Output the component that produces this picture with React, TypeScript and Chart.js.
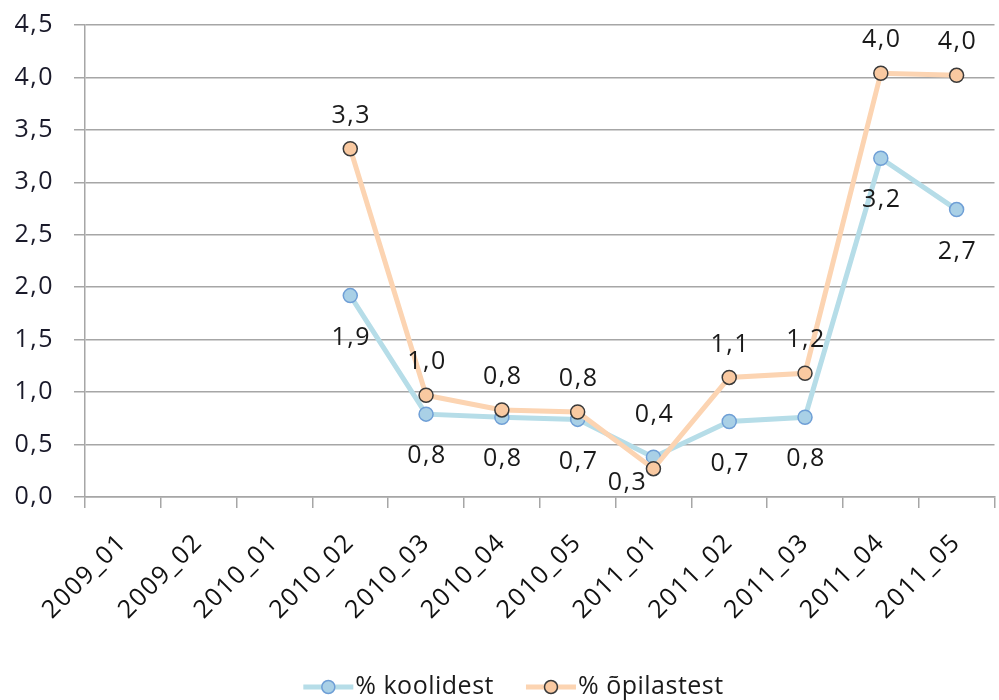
import React, { useEffect, useRef } from "react";
import { Chart, registerables } from "chart.js";

Chart.register(...registerables);

const categories = [
  "2009_01", "2009_02", "2010_01", "2010_02", "2010_03", "2010_04",
  "2010_05", "2011_01", "2011_02", "2011_03", "2011_04", "2011_05",
];
const koolidest: (number | null)[] = [null, null, null, 1.92, 0.79, 0.76, 0.74, 0.38, 0.72, 0.76, 3.23, 2.74];
const opilastest: (number | null)[] = [null, null, null, 3.32, 0.97, 0.83, 0.81, 0.27, 1.14, 1.18, 4.04, 4.02];
const seriesNames = ["% koolidest", "% õpilastest"];
// label placement per point: "above" | "below" | "belowLeft"
const koolidestPlacement = ["below", "below", "below", "below", "below", "below", "below", "above", "below", "below", "below", "below"];
const opilastestPlacement = ["above", "above", "above", "above", "above", "above", "above", "belowLeft", "above", "above", "above", "above"];

const FONT = "'Open Sans', sans-serif";
const fmt = (v: number) => v.toFixed(1).replace(".", ",");

const BLUE_LINE = "#b6dde8";
const BLUE_FILL = "#a9d0e6";
const BLUE_BORDER = "#6f9fd6";
const ORANGE_LINE = "#fcd4b2";
const ORANGE_FILL = "#f9c9a1";
const ORANGE_BORDER = "#3a3a3a";
const GRID = "#a6a6a6";
const SPACING = "1.5px";

const spacingPlugin = {
  id: "spacing",
  beforeUpdate(c: any) { c.ctx.letterSpacing = SPACING; },
  beforeLayout(c: any) { c.ctx.letterSpacing = SPACING; },
  beforeDraw(c: any) { c.ctx.letterSpacing = SPACING; },
};

const labelPlugin = {
  id: "dataLabels",
  afterDatasetsDraw(chart: any) {
    const ctx = chart.ctx;
    ctx.save();
    ctx.letterSpacing = SPACING;
    ctx.font = `25px ${FONT}`;
    ctx.fillStyle = "#1a1a1a";
    ctx.textAlign = "center";
    ctx.textBaseline = "middle";
    chart.data.datasets.forEach((ds: any, di: number) => {
      const meta = chart.getDatasetMeta(di);
      const placement = ds.placement as string[];
      meta.data.forEach((pt: any, i: number) => {
        const v = ds.data[i];
        if (v === null || v === undefined) return;
        const p = placement[i];
        let x = pt.x + 1;
        let y = pt.y;
        if (p === "above") y -= di === 0 ? 42 : 33;
        else if (p === "below") y += 42;
        else if (p === "belowLeft") { y += 14; x -= 27; }
        ctx.fillText(fmt(v), x, y);
      });
    });
    ctx.restore();
  },
};

const legendPlugin = {
  id: "customLegend",
  afterDraw(chart: any) {
    const ctx = chart.ctx;
    ctx.save();
    ctx.letterSpacing = "0.5px";
    ctx.font = `25px ${FONT}`;
    ctx.textBaseline = "middle";
    ctx.textAlign = "left";
    const lineW = 50;
    const gapText = 2;
    const gapItems = 32;
    const widths = chart.data.datasets.map((ds: any) => lineW + gapText + ctx.measureText(ds.label).width);
    const total = widths.reduce((a: number, b: number) => a + b, 0) + gapItems * (widths.length - 1);
    let x = chart.width / 2 + 12 - total / 2;
    const y = 687;
    chart.data.datasets.forEach((ds: any, i: number) => {
      ctx.strokeStyle = ds.borderColor;
      ctx.lineWidth = 5;
      ctx.beginPath();
      ctx.moveTo(x, y);
      ctx.lineTo(x + lineW, y);
      ctx.stroke();
      ctx.beginPath();
      ctx.arc(x + lineW / 2, y, 6.5, 0, Math.PI * 2);
      ctx.fillStyle = ds.pointBackgroundColor;
      ctx.fill();
      ctx.lineWidth = 1.5;
      ctx.strokeStyle = ds.pointBorderColor;
      ctx.stroke();
      ctx.fillStyle = "#1a1a1a";
      ctx.fillText(ds.label, x + lineW + gapText, y);
      x += widths[i] + gapItems;
    });
    ctx.restore();
  },
};

export default function App() {
  const ref = useRef<HTMLCanvasElement>(null);
  useEffect(() => {
    const canvas = ref.current!;
    const chart = new Chart(canvas, {
      type: "line",
      data: {
        labels: categories,
        datasets: [
          {
            label: seriesNames[0],
            data: koolidest,
            borderColor: BLUE_LINE,
            borderWidth: 5,
            pointRadius: 7,
            pointBackgroundColor: BLUE_FILL,
            pointBorderColor: BLUE_BORDER,
            pointBorderWidth: 1.5,
            tension: 0,
            order: 2,
            placement: koolidestPlacement,
          } as any,
          {
            label: seriesNames[1],
            data: opilastest,
            borderColor: ORANGE_LINE,
            borderWidth: 5,
            pointRadius: 7,
            pointBackgroundColor: ORANGE_FILL,
            pointBorderColor: ORANGE_BORDER,
            pointBorderWidth: 1.5,
            tension: 0,
            order: 1,
            placement: opilastestPlacement,
          } as any,
        ],
      },
      options: {
        responsive: false,
        animation: false,
        layout: { padding: { top: 25, right: 1, bottom: 0, left: 0 } },
        plugins: {
          legend: { display: false },
          tooltip: { enabled: false },
        },
        scales: {
          x: {
            type: "category",
            offset: true,
            afterFit: (s: any) => { s.height = 203; },
            grid: {
              offset: true,
              drawOnChartArea: false,
              drawTicks: true,
              tickLength: 11,
              color: GRID,
              lineWidth: 1.5,
            },
            border: { color: GRID, width: 1.5 },
            ticks: {
              autoSkip: false,
              maxRotation: 45,
              minRotation: 45,
              padding: 20,
              color: "#111111",
              font: { family: FONT, size: 25 },
            },
          },
          y: {
            min: 0,
            max: 4.5,
            afterFit: (s: any) => { s.width = 85; s.paddingTop = 0; s.paddingBottom = 0; },
            grid: { color: GRID, lineWidth: 1.5, tickLength: 11 },
            border: { color: GRID, width: 1.5 },
            ticks: {
              stepSize: 0.5,
              padding: 20,
              color: "#1a1a2a",
              font: { family: FONT, size: 25 },
              callback: (v: any) => fmt(Number(v)),
            },
          },
        },
      },
      plugins: [spacingPlugin, labelPlugin, legendPlugin],
    });
    return () => chart.destroy();
  }, []);
  return (
    <div style={{ position: "fixed", left: 0, top: 0, width: 999, height: 700, overflow: "hidden", background: "#fff" }}>
      <canvas ref={ref} width={1003} height={700} style={{ display: "block" }} />
    </div>
  );
}
